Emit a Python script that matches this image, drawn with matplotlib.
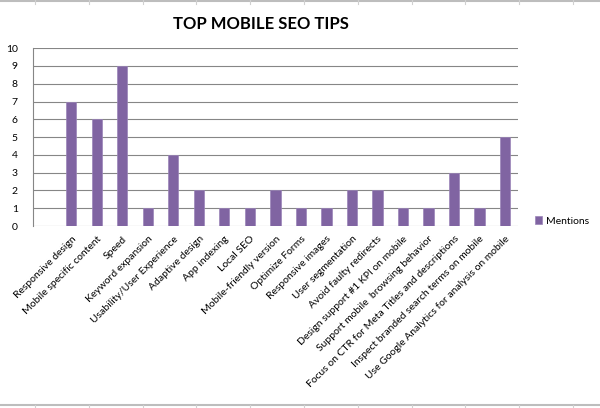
import matplotlib.pyplot as plt
from matplotlib.lines import Line2D
import numpy as np

# chart data (first category is an empty slot, as in the sheet)
tips = ['', 'Responsive design', 'Mobile specific content', 'Speed', 'Keyword expansion',
        'Usability/User Experience', 'Adaptive design', 'App indexing', 'Local SEO',
        'Mobile-friendly version', 'Optimize Forms', 'Responsive images',
        'User segmentation', 'Avoid faulty redirects', 'Design support #1 KPI on mobile',
        'Support mobile  browsing behavior', 'Focus on CTR for Meta Titles and descriptions',
        'Inspect branded search terms on mobile',
        'Use Google Analytics for analysis on mobile']
mentions = [0, 7, 6, 9, 1, 4, 2, 1, 1, 2, 1, 1, 2, 2, 1, 1, 3, 1, 5]

plt.rcParams['font.family'] = ['Lato', 'DejaVu Sans']

fig = plt.figure(figsize=(6, 4.08), dpi=100)
ax = fig.add_axes([0.055, 0.446, 0.808, 0.436])

x = np.arange(len(tips))
ax.bar(x, mentions, width=0.4, color='#8064A2', edgecolor='#9B84B8', linewidth=0.5,
       label='Mentions', zorder=3)

ax.set_xlim(-0.5, len(tips) - 0.5)
ax.set_ylim(0, 10)
ax.set_yticks(range(0, 11))
ax.set_xticks(x)
ax.set_xticklabels(tips, rotation=45, ha='right', rotation_mode='anchor', fontsize=7.5)
ax.tick_params(axis='x', length=0, pad=6)
ax.tick_params(axis='y', length=0, pad=11, labelsize=7.5)
for lab in ax.get_yticklabels():
    lab.set_horizontalalignment('right')

ax.grid(axis='y', color='#868686', linewidth=0.8, zorder=0)
for s in ['top', 'right', 'bottom']:
    ax.spines[s].set_visible(False)
ax.spines['left'].set_color('#868686')
ax.spines['left'].set_linewidth(0.8)

fig.text(0.435, 0.942, 'TOP MOBILE SEO TIPS', ha='center', va='center',
         fontsize=12, fontweight='bold')

ax.legend(loc='center left', bbox_to_anchor=(0.885, 0.458), bbox_transform=fig.transFigure,
          frameon=False, fontsize=7.5, handlelength=0.7, handleheight=0.7,
          handletextpad=0.3, borderaxespad=0)

# spreadsheet cell borders behind the chart
fig.add_artist(Line2D([0, 1], [0.997, 0.997], color='#BDBDBD', linewidth=1.5))
fig.add_artist(Line2D([0, 1], [0.007, 0.007], color='#BDBDBD', linewidth=1.5))
for cx in np.arange(35, 600, 53.8):
    fig.add_artist(Line2D([cx / 600, cx / 600], [0.99, 1.0], color='#D0D0D0', linewidth=0.8))
    fig.add_artist(Line2D([cx / 600, cx / 600], [0.0, 0.007], color='#D0D0D0', linewidth=0.8))

fig.savefig('out.png', dpi=100)
